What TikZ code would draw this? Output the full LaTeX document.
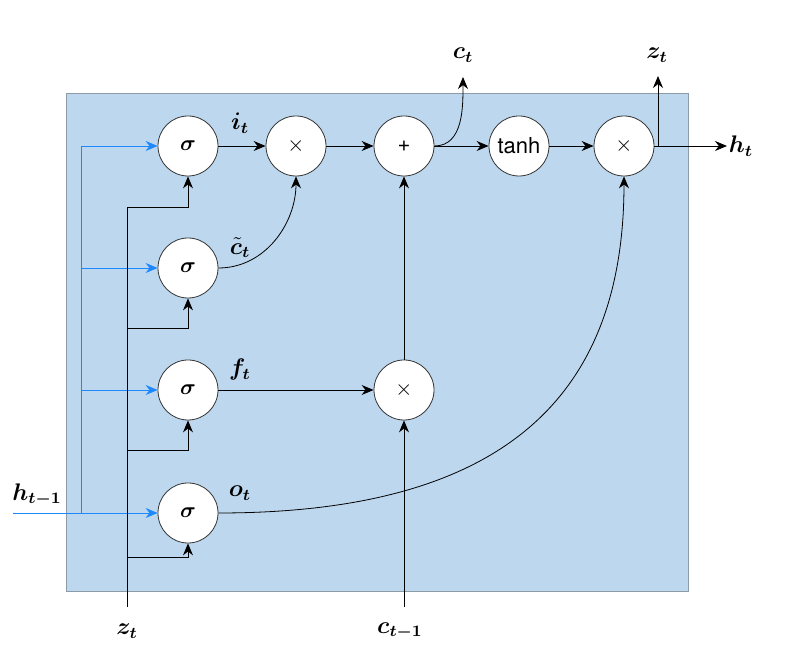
\documentclass[tikz,border=0pt]{standalone}
\usepackage{fontspec}
\usepackage{amsmath}
\usepackage{bm}
\usetikzlibrary{arrows.meta}
\newfontfamily\heros{TeX Gyre Heros}
\definecolor{cellfill}{HTML}{BDD7EE}
\definecolor{cellline}{HTML}{8C9BA6}
\definecolor{hblue}{HTML}{1E88FF}
\begin{document}
\begin{tikzpicture}[x=0.5pt,y=-0.5pt,
  op/.style={circle,draw=black!80,fill=white,minimum size=30pt,inner sep=0pt,font=\heros\fontsize{11}{13}\selectfont},
  wire/.style={draw,thin,-{Stealth[length=6pt,width=5pt]}},
  hwire/.style={draw=hblue,thin,-{Stealth[length=6pt,width=5pt]}},
  lbl/.style={font=\large}]
\useasboundingbox (0,0) rectangle (789,662);
\draw[cellline,fill=cellfill] (66,93) rectangle (688,591);
% gates
\node[op] (sig i) at (188,146) {$\bm{\sigma}$};
\node[op] (sig c) at (188,268) {$\bm{\sigma}$};
\node[op] (sig f) at (188,390) {$\bm{\sigma}$};
\node[op] (sig o) at (188,513) {$\bm{\sigma}$};
\node[op] (mul i) at (296,146) {$\times$};
\node[op] (add) at (404,146) {+};
\node[op] (tanh) at (519,146) {tanh};
\node[op] (mul o) at (624,146) {$\times$};
\node[op] (mul f) at (404,390) {$\times$};
% inputs and outputs
\coordinate (h in) at (13,513);
\coordinate (hsplit) at (81,513);
\coordinate (z in) at (127,607);
\coordinate (c in) at (404,607);
\coordinate (c out) at (463,77);
\coordinate (z out) at (658,76);
\coordinate (h out) at (727,146);
\node[lbl] at (37,495) {$\bm{h_{t-1}}$};
\node[lbl] at (127,631) {$\bm{z_t}$};
\node[lbl] at (400,631) {$\bm{c_{t-1}}$};
\node[lbl] at (463,55) {$\bm{c_t}$};
\node[lbl] at (657,55) {$\bm{z_t}$};
\node[lbl] at (741,146) {$\bm{h_t}$};
\node[lbl] at (240,123) {$\bm{i_t}$};
\node[lbl] at (240,248) {$\bm{\tilde{c}_t}$};
\node[lbl] at (240,370) {$\bm{f_t}$};
\node[lbl] at (240,493) {$\bm{o_t}$};
% h_{t-1}
\draw[hwire] (h in) -- (sig o);
\draw[hblue,thin] (hsplit) -- (81,146);
\draw[hwire] (81,146) -- (sig i);
\draw[hwire] (81,268) -- (sig c);
\draw[hwire] (81,390) -- (sig f);
% z_t
\draw[thin] (z in) -- (127,207);
\draw[wire] (127,207) -| (sig i);
\draw[wire] (127,328) -| (sig c);
\draw[wire] (127,450) -| (sig f);
\draw[wire] (127,557) -| (sig o);
% cell
\draw[wire] (sig i) -- (mul i);
\draw[wire] (mul i) -- (add);
\draw[wire] (sig c.east) to[out=0,in=-90] (mul i.south);
\draw[wire] (sig f) -- (mul f);
\draw[wire] (c in) -- (mul f);
\draw[wire] (mul f) -- (add);
\draw[wire] (add) -- (tanh);
\draw[wire] (add.east) to[out=0,in=-90] (c out);
\draw[wire] (tanh) -- (mul o);
\draw[wire] (sig o.east) .. controls (500,513) and (624,400) .. (mul o.south);
\draw[wire] (mul o) -- (h out);
\draw[wire] (658,146) -- (z out);
\end{tikzpicture}
\end{document}
